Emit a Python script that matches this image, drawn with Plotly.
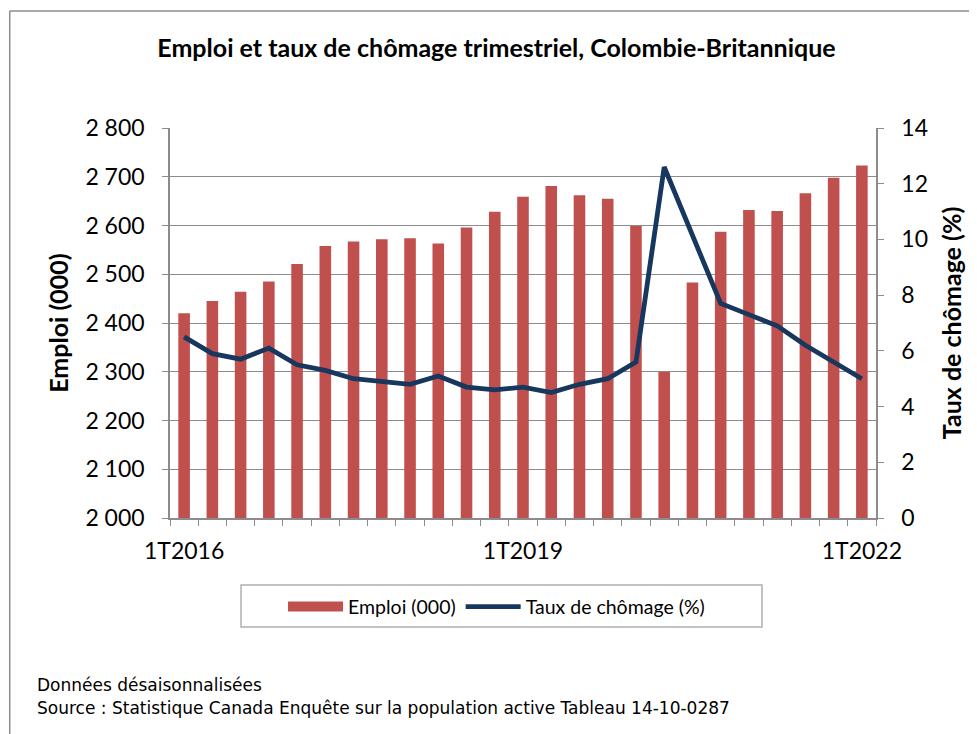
import plotly.graph_objects as go

quarters = ["1T2016", "2T2016", "3T2016", "4T2016",
            "1T2017", "2T2017", "3T2017", "4T2017",
            "1T2018", "2T2018", "3T2018", "4T2018",
            "1T2019", "2T2019", "3T2019", "4T2019",
            "1T2020", "2T2020", "3T2020", "4T2020",
            "1T2021", "2T2021", "3T2021", "4T2021",
            "1T2022"]
emploi = [2420, 2445, 2464, 2485, 2521, 2558, 2567, 2572, 2574, 2563, 2596, 2628,
          2659, 2681, 2662, 2655, 2599, 2300, 2483, 2587, 2632, 2630, 2666, 2698, 2723]
chomage = [6.5, 5.9, 5.7, 6.1, 5.5, 5.3, 5.0, 4.9, 4.8, 5.1, 4.7, 4.6,
           4.7, 4.5, 4.8, 5.0, 5.6, 12.6, 10.1, 7.7, 7.3, 6.9, 6.2, 5.6, 5.0]
shown_labels = ["1T2016", "1T2019", "1T2022"]
left_ticks = [2000, 2100, 2200, 2300, 2400, 2500, 2600, 2700, 2800]
right_ticks = [0, 2, 4, 6, 8, 10, 12, 14]

title = "Emploi et taux de chômage trimestriel, Colombie-Britannique"
note1 = "Données désaisonnalisées"
note2 = "Source : Statistique Canada Enquête sur la population active Tableau 14-10-0287"

FONT = "Lato"
NOTE_FONT = "DejaVu Sans"
GRID = "#8c8c8c"
RED = "#C0504D"
NAVY = "#17375E"

fig = go.Figure()
fig.add_trace(go.Bar(x=quarters, y=emploi, name="Emploi (000)", showlegend=False,
                     marker=dict(color=RED, line=dict(width=0)), yaxis="y"))
# legend-only entry so the swatch is drawn as a wide rectangle like the original
fig.add_trace(go.Scatter(x=[None], y=[None], name="Emploi (000)", mode="lines",
                         line=dict(color=RED, width=12), yaxis="y"))
fig.add_trace(go.Scatter(x=quarters, y=chomage, name="Taux de chômage (%)", mode="lines",
                         line=dict(color=NAVY, width=4.8), yaxis="y2"))

fig.update_layout(
    width=977, height=734,
    margin=dict(l=162, r=109, t=120, b=224, autoexpand=False),
    paper_bgcolor="white", plot_bgcolor="white",
    separators=", ",
    font=dict(family=FONT, color="black"),
    bargap=0.59,
    showlegend=True,
    title=dict(text="<b>" + title + "</b>", x=0.5, xref="container", xanchor="center",
               y=1 - 40 / 734, yref="container", yanchor="middle",
               font=dict(size=25, family=FONT, color="black")),
    xaxis=dict(type="category", categoryorder="array", categoryarray=quarters,
               tickvals=quarters, ticktext=[q if q in shown_labels else "" for q in quarters],
               tickson="boundaries", ticks="outside", ticklen=6, tickcolor=GRID, tickangle=0,
               ticklabelstandoff=12,
               showline=True, linecolor=GRID, linewidth=1.5, showgrid=False,
               tickfont=dict(size=23, family=FONT), range=[-0.5, 24.5]),
    yaxis=dict(range=[2000, 2800], tickvals=left_ticks, tickformat=",d",
               ticks="outside", ticklen=6, tickcolor=GRID, ticklabelstandoff=13,
               showline=True, linecolor=GRID, linewidth=1.5,
               showgrid=True, gridcolor=GRID, gridwidth=1.2, zeroline=False,
               tickfont=dict(size=23, family=FONT),
               title=dict(text="<b>Emploi (000)</b>", font=dict(size=25, family=FONT), standoff=10)),
    yaxis2=dict(range=[0, 14], tickvals=right_ticks, overlaying="y", side="right",
                ticks="outside", ticklen=6, tickcolor=GRID, ticklabelstandoff=13,
                showline=True, linecolor=GRID, linewidth=1.5, showgrid=False, zeroline=False,
                tickfont=dict(size=23, family=FONT),
                title=dict(text="<b>Taux de chômage (%)</b>", font=dict(size=25, family=FONT), standoff=16)),
    legend=dict(orientation="h", x=0.4625, y=-0.228, xanchor="center", yanchor="middle",
                font=dict(size=19.5, family=FONT), bgcolor="rgba(0,0,0,0)", borderwidth=0,
                itemwidth=55, traceorder="normal"),
    shapes=[
        dict(type="rect", xref="paper", yref="paper", x0=0.1006, x1=0.8385, y0=-0.2795, y1=-0.1718,
             line=dict(color="#b0b0b0", width=1.5), fillcolor="rgba(0,0,0,0)", layer="below"),
        dict(type="line", xref="paper", yref="paper", x0=-0.227, x1=-0.227, y0=-0.7, y1=1.30,
             line=dict(color="#8c8c8c", width=1.5), layer="below"),
        dict(type="line", xref="paper", yref="paper", x0=-0.227, x1=1.2, y0=1.30, y1=1.30,
             line=dict(color="#8c8c8c", width=1.5), layer="below"),
    ],
    annotations=[
        dict(text=note1, xref="paper", yref="paper", x=-0.1912, y=-0.428, xanchor="left",
             yanchor="middle", showarrow=False, font=dict(size=17, family=NOTE_FONT, color="black")),
        dict(text=note2, xref="paper", yref="paper", x=-0.1912, y=-0.487, xanchor="left",
             yanchor="middle", showarrow=False, font=dict(size=17, family=NOTE_FONT, color="black")),
    ],
)

fig.write_html("out.html")
